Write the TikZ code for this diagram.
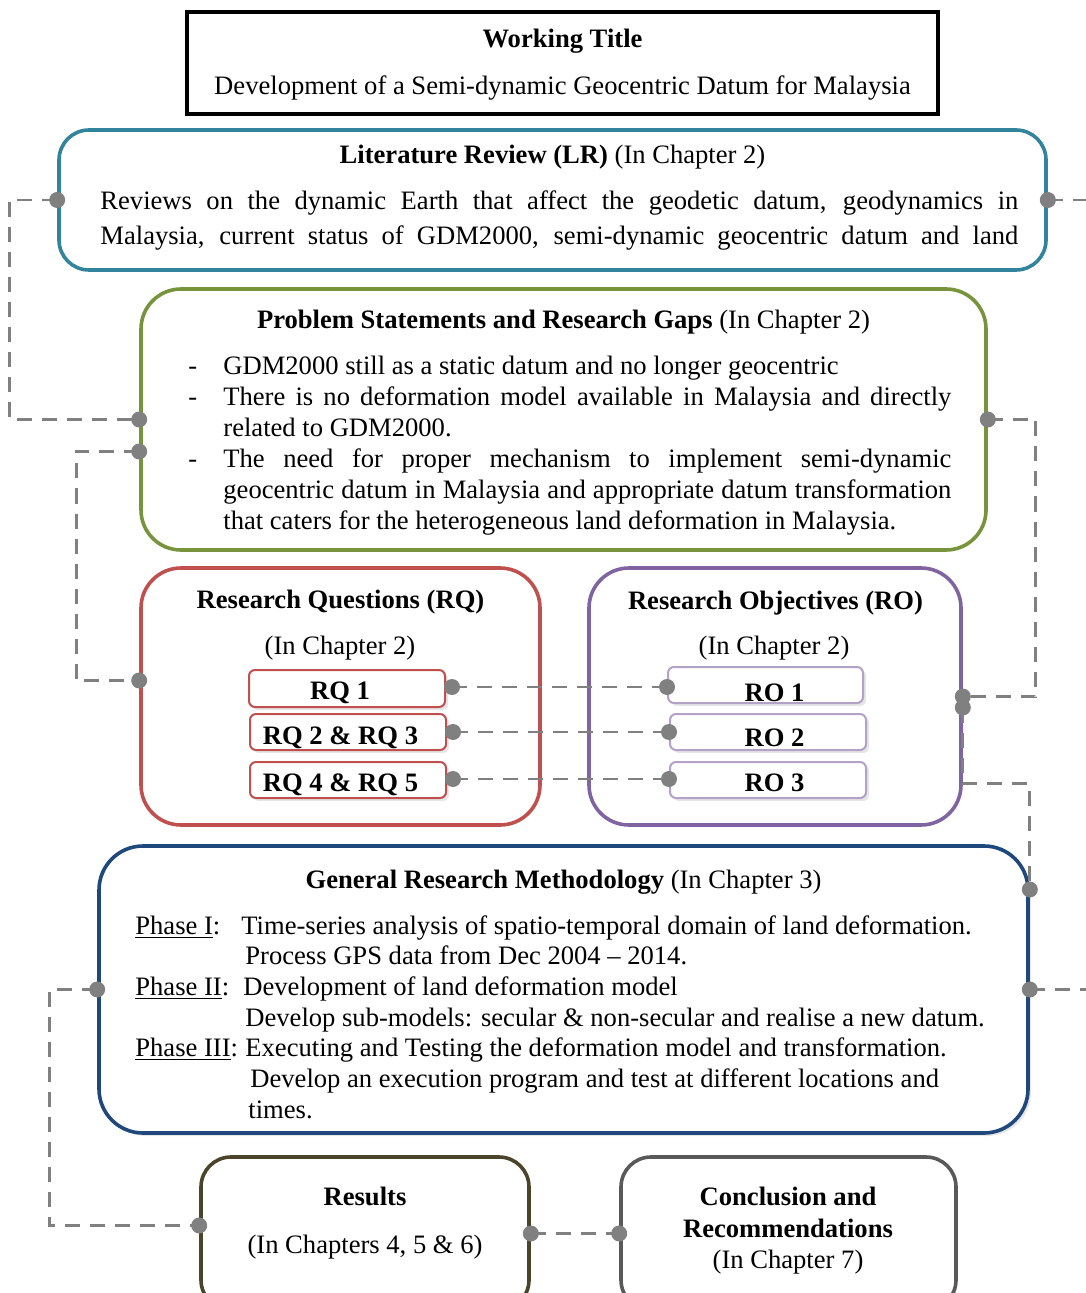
\documentclass[tikz,border=0pt]{standalone}
\usepackage{fontspec}
\setmainfont{Liberation Serif}
\usetikzlibrary{shadows}
\definecolor{lrc}{HTML}{31849B}
\definecolor{psgc}{HTML}{77933C}
\definecolor{rqc}{HTML}{C0504D}
\definecolor{roc}{HTML}{8064A2}
\definecolor{rosubc}{HTML}{B3A2C7}
\definecolor{grmc}{HTML}{1F497D}
\definecolor{resc}{HTML}{4A452A}
\definecolor{conc}{HTML}{595959}
\definecolor{linkc}{HTML}{808080}
\newcommand{\fillline}[2]{\makebox[#1][s]{#2}}
\begin{document}
\begin{tikzpicture}[x=0.5pt,y=-0.5pt,
  every node/.style={font=\fontsize{13.3}{15.5}\selectfont,inner sep=0pt},
  box/.style={rectangle,draw,line width=1.8pt,rounded corners=#1},
  box/.default=20pt,
  subbox/.style={rectangle,draw,line width=1pt,rounded corners=3pt,fill=white,
    drop shadow={opacity=0.2,shadow xshift=1.5pt,shadow yshift=-1.5pt}},
  bold/.style={font=\fontsize{13.3}{15.5}\selectfont\bfseries},
  link/.style={draw=linkc,line width=1.4pt,dash pattern=on 7.5pt off 5pt},
  dot/.style={fill=linkc}]
\useasboundingbox (0,0) rectangle (1085,1293);

\node[rectangle,draw,line width=1.6pt,minimum width=375.5pt,minimum height=51pt] (title) at (562.5,63) {};
\node[box=15pt,draw=lrc,minimum width=493.5pt,minimum height=70pt] (lr) at (552.5,200) {};
\node[box,draw=psgc,minimum width=422.5pt,minimum height=130.5pt] (psg) at (563.5,419.5) {};
\node[box,draw=rqc,minimum width=199.5pt,minimum height=128.5pt] (rq) at (340.5,696.5) {};
\node[box,draw=roc,minimum width=186pt,minimum height=128.5pt] (ro) at (775,696.5) {};
\node[subbox,draw=rqc,minimum width=98pt,minimum height=18.5pt] (rq1) at (347,688.5) {};
\node[subbox,draw=rqc,minimum width=98pt,minimum height=18pt] (rq23) at (348,732) {};
\node[subbox,draw=rqc,minimum width=98pt,minimum height=18pt] (rq45) at (348,780) {};
\node[subbox,draw=rosubc,minimum width=97.5pt,minimum height=18pt] (ro1) at (765.5,685) {};
\node[subbox,draw=rosubc,minimum width=98pt,minimum height=18pt] (ro2) at (768,732) {};
\node[subbox,draw=rosubc,minimum width=98pt,minimum height=18pt] (ro3) at (768,780) {};
\node[box=22pt,draw=grmc,fill=white,minimum width=464.5pt,minimum height=143.5pt,
  drop shadow={opacity=0.2,shadow xshift=1.5pt,shadow yshift=-1.5pt}] (grm) at (563.5,989.5) {};
\node[box=15pt,draw=resc,minimum width=164pt,minimum height=76.5pt] (res) at (365,1233.5) {};
\node[box=15pt,draw=conc,minimum width=167.5pt,minimum height=76.5pt] (con) at (788.5,1233.5) {};

\node[anchor=base,bold] (titlea) at (562.5,48) {Working Title};
\node[anchor=base] (titleb) at (562.5,95) {Development of a Semi-dynamic Geocentric Datum for Malaysia};

\node[anchor=base] (lrhead) at (552.5,164) {\textbf{Literature Review (LR)} (In Chapter 2)};
\node[anchor=base west] (lrtexta) at (100,210) {\fillline{459pt}{Reviews on the dynamic Earth that affect the geodetic datum, geodynamics in}};
\node[anchor=base west] (lrtextb) at (100,245) {\fillline{459pt}{Malaysia, current status of GDM2000, semi-dynamic geocentric datum and land}};

\node[anchor=base] (psghead) at (563.5,329) {\textbf{Problem Statements and Research Gaps} (In Chapter 2)};
\node[anchor=base west] (psgtext) at (188,375) {\begin{tabular}[t]{@{}p{17.5pt}@{}l@{}}
-& GDM2000 still as a static datum and no longer geocentric\\
-& \fillline{364pt}{There is no deformation model available in Malaysia and directly}\\
 & related to GDM2000.\\
-& \fillline{364pt}{The need for proper mechanism to implement semi-dynamic}\\
 & \fillline{364pt}{geocentric datum in Malaysia and appropriate datum transformation}\\
 & that caters for the heterogeneous land deformation in Malaysia.
\end{tabular}};

\node[anchor=base,bold] (rqhead) at (340.5,608) {Research Questions (RQ)};
\node[anchor=base] (rqchap) at (340,654) {(In Chapter 2)};
\node[anchor=base,bold] (rohead) at (775.5,609) {Research Objectives (RO)};
\node[anchor=base] (rochap) at (774,654) {(In Chapter 2)};
\node[anchor=base,bold] (rq1t) at (340,699) {RQ 1};
\node[anchor=base,bold] (rq23t) at (340.5,744) {RQ 2 \& RQ 3};
\node[anchor=base,bold] (rq45t) at (340.5,791) {RQ 4 \& RQ 5};
\node[anchor=base,bold] (ro1t) at (774.5,701) {RO 1};
\node[anchor=base,bold] (ro2t) at (774.5,746) {RO 2};
\node[anchor=base,bold] (ro3t) at (774.5,791) {RO 3};

\node[anchor=base] (grmhead) at (563.5,888) {\textbf{General Research Methodology} (In Chapter 3)};
\node[anchor=base west,font=\fontsize{13.3}{15.35}\selectfont] (grmtext) at (135,934) {\begin{tabular}[t]{@{}l@{}}
\makebox[53pt][l]{\underline{Phase I}:}Time-series analysis of spatio-temporal domain of land deformation.\\
\hspace*{55pt}Process GPS data from Dec 2004 -- 2014.\\
\makebox[54pt][l]{\underline{Phase II}:}Development of land deformation model\\
\hspace*{55pt}Develop sub-models: secular \& non-secular and realise a new datum.\\
\makebox[55pt][l]{\underline{Phase III}:}Executing and Testing the deformation model and transformation.\\
\hspace*{57.5pt}Develop an execution program and test at different locations and\\
\hspace*{56.5pt}times.
\end{tabular}};

\node[anchor=base,bold] (rest) at (365,1205) {Results};
\node[anchor=base] (reschap) at (365,1253) {(In Chapters 4, 5 \& 6)};
\node[anchor=base,bold] (cona) at (788,1205) {Conclusion and};
\node[anchor=base,bold] (conb) at (788,1237) {Recommendations};
\node[anchor=base] (conchap) at (788,1268) {(In Chapter 7)};

\coordinate (psgb) at ([yshift=-16pt]psg.west);
\coordinate (rqa) at ([yshift=8pt]rq.west);
\coordinate (rob) at ([yshift=-5.5pt]ro.east);
\coordinate (grma) at ([yshift=50pt]grm.east);
\coordinate (resa) at ([yshift=4pt]res.west);
\coordinate (rq1e) at ([xshift=3pt,yshift=0.75pt]rq1.east);
\coordinate (rq23e) at ([xshift=3pt]rq23.east);
\coordinate (rq45e) at ([xshift=3pt,yshift=0.5pt]rq45.east);

\draw[link] (lr.west) -- ++(-48,0) |- (psg.west);
\draw[link] (lr.east) -- ++(45,0);
\draw[link] (psgb) -- ++(-63,0) |- (rqa);
\draw[link] (psg.east) -- ++(48,0) |- (ro.east);
\draw[link] (rq1e) -- (rq1e -| ro1.west);
\draw[link] (rq23e) -- (rq23e -| ro2.west);
\draw[link] (rq45e) -- (rq45e -| ro3.west);
\draw[link] (rob) -- ++(0,76) -| (grma);
\draw[link] (grm.east) -- ++(60,0);
\draw[link] (grm.west) -- ++(-48,0) |- (resa);
\draw[link] (res.east) -- (con.west);

\foreach \p in {lr.west,lr.east,psg.west,psgb,psg.east,rqa,ro.east,rob,rq1e,rq23e,rq45e,grma,grm.east,grm.west,resa,res.east,con.west}
  \fill[dot] (\p) circle (4pt);
\fill[dot] (rq1e -| ro1.west) circle (4pt);
\fill[dot] (rq23e -| ro2.west) circle (4pt);
\fill[dot] (rq45e -| ro3.west) circle (4pt);
\end{tikzpicture}
\end{document}
